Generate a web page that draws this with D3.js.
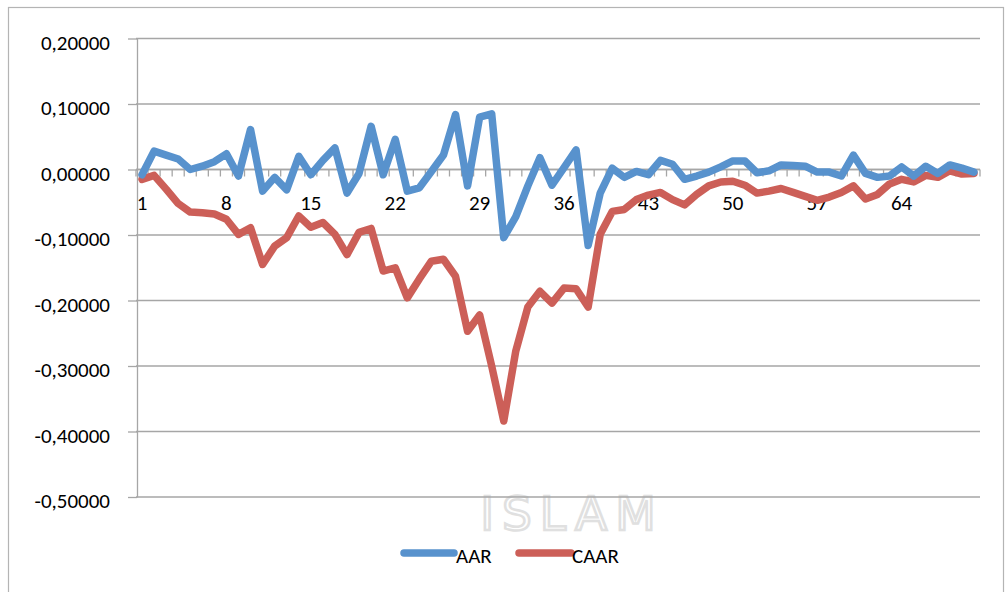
<!DOCTYPE html>
<html>
<head>
<meta charset="utf-8">
<script src="https://cdn.jsdelivr.net/npm/d3@7"></script>
<style>
  html, body { margin: 0; padding: 0; background: #ffffff; }
  svg { display: block; }
</style>
</head>
<body>
<svg id="chart" width="1006" height="592"></svg>
<script>
// ---- data ----
const categories = d3.range(1, 71);
const xTickLabels = [1, 8, 15, 22, 29, 36, 43, 50, 57, 64];
const yTickValues = [0.2, 0.1, 0.0, -0.1, -0.2, -0.3, -0.4, -0.5];
const seriesNames = ["AAR", "CAAR"];
const aar = [
  -0.008, 0.028, 0.022, 0.016, 0.000, 0.005, 0.012, 0.024, -0.010, 0.061,
  -0.033, -0.012, -0.031, 0.020, -0.008, 0.014, 0.033, -0.036, -0.006, 0.066,
  -0.008, 0.046, -0.033, -0.028, -0.003, 0.022, 0.084, -0.025, 0.080, 0.085,
  -0.104, -0.072, -0.025, 0.018, -0.024, 0.003, 0.030, -0.116, -0.036, 0.002,
  -0.012, -0.003, -0.008, 0.014, 0.008, -0.015, -0.010, -0.004, 0.004, 0.013,
  0.013, -0.005, -0.002, 0.007, 0.006, 0.005, -0.004, -0.004, -0.010, 0.022,
  -0.006, -0.012, -0.010, 0.004, -0.010, 0.005, -0.006, 0.007, 0.002, -0.004
];
const caar = [
  -0.015, -0.009, -0.030, -0.052, -0.065, -0.066, -0.068, -0.076, -0.099, -0.089,
  -0.145, -0.117, -0.104, -0.071, -0.088, -0.081, -0.099, -0.130, -0.096, -0.090,
  -0.155, -0.150, -0.196, -0.167, -0.140, -0.137, -0.163, -0.247, -0.222, -0.300,
  -0.384, -0.277, -0.210, -0.186, -0.204, -0.181, -0.182, -0.210, -0.099, -0.064,
  -0.061, -0.046, -0.039, -0.035, -0.046, -0.054, -0.038, -0.025, -0.019, -0.018,
  -0.024, -0.036, -0.033, -0.029, -0.035, -0.041, -0.047, -0.042, -0.035, -0.025,
  -0.045, -0.038, -0.022, -0.015, -0.019, -0.009, -0.012, -0.002, -0.007, -0.006
];
const seriesColors = ["#5892cd", "#cc5f58"];

// ---- layout ----
const svg = d3.select("#chart");
const FONT = "Carlito, Lato, 'Open Sans', sans-serif";
const plot = { left: 136, right: 980, top: 38.5, bottom: 497 };

const x = d3.scaleBand().domain(categories).range([plot.left, plot.right]).padding(0);
const y = d3.scaleLinear().domain([-0.5, 0.2]).range([plot.bottom, plot.top]);
const cx = c => x(c) + x.bandwidth() / 2;

const locale = d3.formatLocale({ decimal: ",", thousands: ".", grouping: [3], currency: ["", ""], minus: "-" });
const fmt = locale.format(".5f");

// chart frame
svg.append("rect")
  .attr("x", 8.5).attr("y", 7.5).attr("width", 995).attr("height", 620)
  .attr("fill", "#ffffff").attr("stroke", "#b4b4b4").attr("stroke-width", 1.2);

// faint watermark of the source document
const wm = svg.append("g").attr("fill", "none").attr("stroke", "#e0e0e0").attr("stroke-width", 2.5)
  .attr("font-family", "'DejaVu Sans', sans-serif").attr("font-size", 47);
wm.append("text").attr("x", 572).attr("y", 530).attr("text-anchor", "middle")
  .attr("letter-spacing", 8).text("ISLAM");

// gridlines
svg.append("g").selectAll("line").data(yTickValues).join("line")
  .attr("x1", plot.left).attr("x2", plot.right)
  .attr("y1", d => y(d)).attr("y2", d => y(d))
  .attr("stroke", "#a6a6a6").attr("stroke-width", 1.3);

// y axis
const yAxis = svg.append("g").attr("transform", `translate(${plot.left + 1},0)`)
  .call(d3.axisLeft(y).tickValues(yTickValues).tickSize(9).tickSizeOuter(0).tickPadding(18).tickFormat(fmt));
yAxis.select(".domain").attr("stroke", "#a6a6a6").attr("stroke-width", 1.3);
yAxis.selectAll(".tick line").attr("stroke", "#a6a6a6").attr("stroke-width", 1.3);
yAxis.selectAll(".tick text").attr("font-family", FONT).attr("font-size", 21)
  .attr("fill", "#000").attr("dy", "0.52em");

// x axis (category axis crossing at 0)
const xAxisG = svg.append("g").attr("transform", `translate(0,${y(0)})`);
xAxisG.append("line").attr("x1", plot.left).attr("x2", plot.right)
  .attr("stroke", "#a6a6a6").attr("stroke-width", 1.3);
const boundaries = categories.map(c => x(c)).concat([plot.right]);
xAxisG.selectAll("line.tk").data(boundaries).join("line").attr("class", "tk")
  .attr("x1", d => d).attr("x2", d => d).attr("y1", 0).attr("y2", 7)
  .attr("stroke", "#a6a6a6").attr("stroke-width", 1.3);
xAxisG.selectAll("text").data(xTickLabels).join("text")
  .attr("x", d => cx(d)).attr("y", 40)
  .attr("text-anchor", "middle").attr("font-family", FONT).attr("font-size", 21)
  .attr("fill", "#000").text(d => d);

// lines
const seriesData = [aar, caar];
const line = d3.line().x((d, i) => cx(categories[i])).y(d => y(d));
svg.append("g").selectAll("path").data([1, 0]).join("path")
  .attr("d", k => line(seriesData[k]))
  .attr("fill", "none").attr("stroke", k => seriesColors[k])
  .attr("stroke-width", 7.5).attr("stroke-linejoin", "round").attr("stroke-linecap", "round");

// legend
const legendItems = [
  { name: seriesNames[0], color: seriesColors[0], x1: 404, x2: 454, tx: 456 },
  { name: seriesNames[1], color: seriesColors[1], x1: 519, x2: 571, tx: 572 }
];
const lg = svg.append("g");
lg.selectAll("line").data(legendItems).join("line")
  .attr("x1", d => d.x1).attr("x2", d => d.x2).attr("y1", 553).attr("y2", 553)
  .attr("stroke", d => d.color).attr("stroke-width", 7.5).attr("stroke-linecap", "round");
lg.selectAll("text").data(legendItems).join("text")
  .attr("x", d => d.tx).attr("y", 563)
  .attr("font-family", FONT).attr("font-size", 21).attr("fill", "#000").text(d => d.name);
</script>
</body>
</html>
